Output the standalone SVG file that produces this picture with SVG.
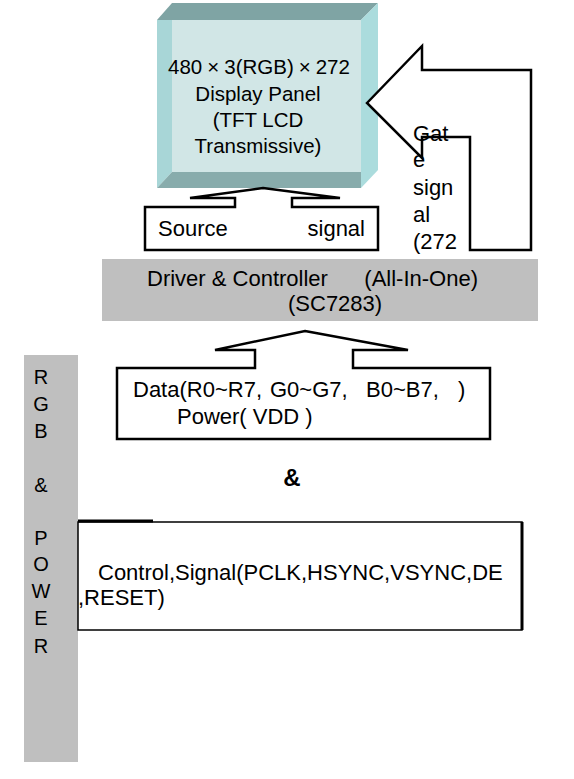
<svg xmlns="http://www.w3.org/2000/svg" width="574" height="779" viewBox="0 0 574 779">
<style>
text{font-family:"Liberation Sans",Arial,sans-serif;font-size:22px;fill:#000}
.pan{font-size:20.5px;text-anchor:middle}
.bar{font-size:20px;text-anchor:middle}
.arr{fill:#fff;stroke:#000;stroke-width:2.5;stroke-linejoin:miter}
.box{fill:#fff;stroke:#000;stroke-width:1.5}
</style>
<rect width="574" height="779" fill="#fff"/>
<g id="rgb-power-bar">
<rect x="24" y="355" width="54" height="407" fill="#bfbfbf"/>
<text x="41" y="384" class="bar">R</text>
<text x="41" y="411" class="bar">G</text>
<text x="41" y="438" class="bar">B</text>
<text x="41" y="492" class="bar">&amp;</text>
<text x="41" y="545" class="bar">P</text>
<text x="41" y="571" class="bar">O</text>
<text x="41" y="598" class="bar">W</text>
<text x="41" y="625" class="bar">E</text>
<text x="41" y="653" class="bar">R</text>
</g>
<g id="display-panel">
<polygon points="157,20 172,3 378,3 361,20" fill="#7fa4a4"/>
<polygon points="157,20 172,20 172,172 157,188" fill="#a8d6d7"/>
<polygon points="157,188 172,172 361,172 361,188" fill="#88acac"/>
<polygon points="361,20 378,3 378,170 361,188" fill="#abdcdd"/>
<rect x="172" y="20" width="189" height="152" fill="#d1e6e6"/>
<text x="259" y="74" class="pan">480<tspan dx="5">×</tspan><tspan dx="5">3(RGB)</tspan><tspan dx="5">×</tspan><tspan dx="5">272</tspan></text>
<text x="258" y="101" class="pan">Display Panel</text>
<text x="258" y="127" class="pan">(TFT LCD</text>
<text x="258" y="153" class="pan">Transmissive)</text>
</g>
<g id="connectors">
<polygon class="arr" points="367,103 422,46 422,70 531,70 531,250 470,250 470,137 422,137 422,158"/>
<polygon class="arr" points="263,188 340,198 292,198 292,207 378,207 378,250 145,250 145,207 235,207 235,198 190,198"/>
<polygon class="arr" points="305,331 408,350 353,350 353,368 490,368 490,439 117,439 117,368 255,368 255,350 215,350"/>
</g>
<g id="gate-signal">
<text x="413" y="141">Gat</text>
<text x="413" y="167">e</text>
<text x="413" y="195">sign</text>
<text x="413" y="222">al</text>
<text x="413" y="249">(272</text>
</g>
<g id="source-signal">
<text x="158" y="236">Source</text>
<text x="365" y="236" text-anchor="end">signal</text>
</g>
<g id="driver-controller">
<rect x="102" y="259" width="436" height="62" fill="#bfbfbf"/>
<text x="147" y="286">Driver &amp; Controller</text>
<text x="478" y="286" text-anchor="end">(All-In-One)</text>
<text x="288" y="311">(SC7283)</text>
</g>
<g id="data-power">
<text x="133" y="397">Data(R0~R7,<tspan x="270">G0~G7,</tspan><tspan x="366">B0~B7,</tspan><tspan x="458">)</tspan></text>
<text x="177" y="424">Power( VDD )</text>
</g>
<g id="and-sign">
<text x="292" y="486" text-anchor="middle" style="font-weight:bold;font-size:24px">&amp;</text>
</g>
<g id="control-signal">
<rect class="box" x="78" y="522" width="444" height="108"/>
<line x1="522" y1="522" x2="522" y2="630" stroke="#000" stroke-width="3"/>
<line x1="78" y1="521" x2="153" y2="521" stroke="#000" stroke-width="3"/>
<text x="98" y="580">Control,Signal(PCLK,HSYNC,VSYNC,DE</text>
<text x="78" y="605">,RESET)</text>
</g>
</svg>
